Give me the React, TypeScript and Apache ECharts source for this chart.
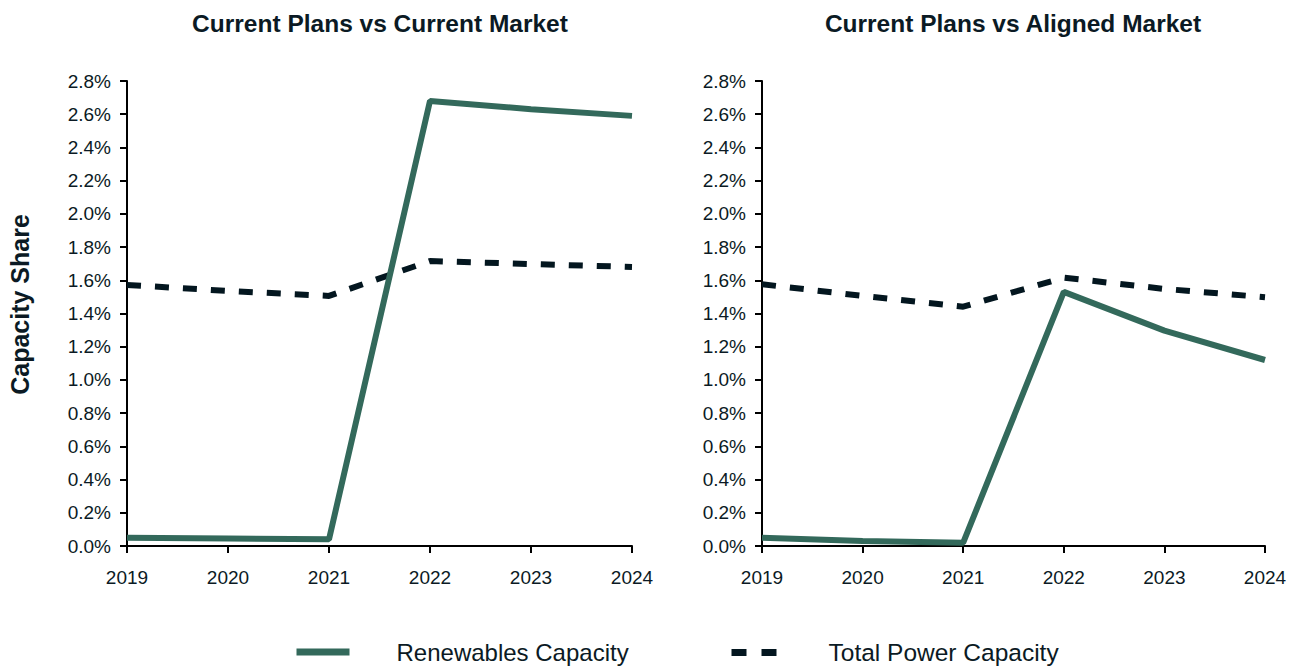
import React, { useEffect, useRef } from "react";
import * as echarts from "echarts";

const years = ["2019", "2020", "2021", "2022", "2023", "2024"];
const leftRenewables = [0.05, 0.045, 0.04, 2.68, 2.63, 2.59];
const leftTotal = [1.572, 1.536, 1.506, 1.716, 1.698, 1.68];
const rightRenewables = [0.05, 0.03, 0.02, 1.53, 1.297, 1.12];
const rightTotal = [1.576, 1.506, 1.441, 1.616, 1.548, 1.498];
const titles = ["Current Plans vs Current Market", "Current Plans vs Aligned Market"];
const seriesNames = ["Renewables Capacity", "Total Power Capacity"];

const GREEN = "#33695b";
const DARK = "#03161f";
const TEXT = "#0b1a24";
const FONT = "'Liberation Sans', Arial, sans-serif";

export default function App() {
  const ref = useRef<HTMLDivElement>(null);
  useEffect(() => {
    if (!ref.current) return;
    const chart = echarts.init(ref.current, undefined, { renderer: "svg" });
    const xAxisBase = (gridIndex: number) => ({
      type: "category" as const,
      gridIndex,
      data: years,
      boundaryGap: false,
      axisLine: { lineStyle: { color: "#000", width: 2 } },
      axisTick: { show: true, length: 7, lineStyle: { color: "#000", width: 2 } },
      axisLabel: { color: TEXT, fontSize: 19, fontFamily: FONT, margin: 22 },
      splitLine: { show: false },
    });
    const yAxisBase = (gridIndex: number, withName: boolean) => ({
      type: "value" as const,
      gridIndex,
      min: 0,
      max: 2.8,
      interval: 0.2,
      name: withName ? "Capacity Share" : "",
      nameLocation: "middle" as const,
      nameRotate: 90,
      nameGap: 95,
      nameTextStyle: {
        color: TEXT,
        fontSize: 25,
        fontWeight: "bold",
        fontFamily: FONT,
        padding: [0, 0, 0, 18],
      },
      axisLine: { show: true, lineStyle: { color: "#000", width: 2 } },
      axisTick: { show: true, length: 7, lineStyle: { color: "#000", width: 2 } },
      axisLabel: {
        color: TEXT,
        fontSize: 19,
        fontFamily: FONT,
        margin: 16,
        formatter: (v: number) => v.toFixed(1) + "%",
      },
      splitLine: { show: false },
    });
    const greenLine = (name: string, data: number[], idx: number) => ({
      name,
      type: "line" as const,
      xAxisIndex: idx,
      yAxisIndex: idx,
      data,
      symbol: "none",
      lineStyle: { color: GREEN, width: 6, cap: "butt" as const },
      itemStyle: { color: GREEN },
      z: 3,
    });
    const dashLine = (name: string, data: number[], idx: number) => ({
      name,
      type: "line" as const,
      xAxisIndex: idx,
      yAxisIndex: idx,
      data,
      symbol: "none",
      lineStyle: { color: DARK, width: 6, type: [14, 14], cap: "butt" as const },
      itemStyle: { color: DARK },
      z: 2,
    });
    chart.setOption({
      animation: false,
      backgroundColor: "#fff",
      title: [
        {
          text: titles[0],
          left: 375,
          top: 6,
          textAlign: "center",
          textStyle: { color: TEXT, fontSize: 24.5, fontWeight: "bold", fontFamily: FONT },
        },
        {
          text: titles[1],
          left: 1008,
          top: 6,
          textAlign: "center",
          textStyle: { color: TEXT, fontSize: 24.5, fontWeight: "bold", fontFamily: FONT },
        },
      ],
      grid: [
        { left: 127, top: 81, width: 505, height: 465 },
        { left: 762, top: 81, width: 503, height: 465 },
      ],
      xAxis: [xAxisBase(0), xAxisBase(1)],
      yAxis: [yAxisBase(0, true), yAxisBase(1, false)],
      legend: [
        {
          data: [seriesNames[0]],
          left: 288,
          top: 635,
          itemWidth: 53,
          itemHeight: 14,
          itemStyle: { opacity: 0 },
          lineStyle: { color: GREEN, width: 7, type: "solid", cap: "butt" },
          textStyle: { color: TEXT, fontSize: 24, fontFamily: FONT, padding: [0, 0, 0, 42] },
        },
        {
          data: [seriesNames[1]],
          left: 723,
          top: 635,
          itemWidth: 45,
          itemHeight: 14,
          itemStyle: { opacity: 0 },
          lineStyle: { color: DARK, width: 7, type: [15, 15], cap: "butt" },
          textStyle: { color: TEXT, fontSize: 24.5, fontFamily: FONT, padding: [0, 0, 0, 47] },
        },
      ],
      series: [
        greenLine(seriesNames[0], leftRenewables, 0),
        dashLine(seriesNames[1], leftTotal, 0),
        greenLine(seriesNames[0], rightRenewables, 1),
        dashLine(seriesNames[1], rightTotal, 1),
      ],
    });
    return () => chart.dispose();
  }, []);
  return (
    <div
      ref={ref}
      style={{ position: "absolute", left: 0, top: 0, width: 1296, height: 667 }}
    />
  );
}
